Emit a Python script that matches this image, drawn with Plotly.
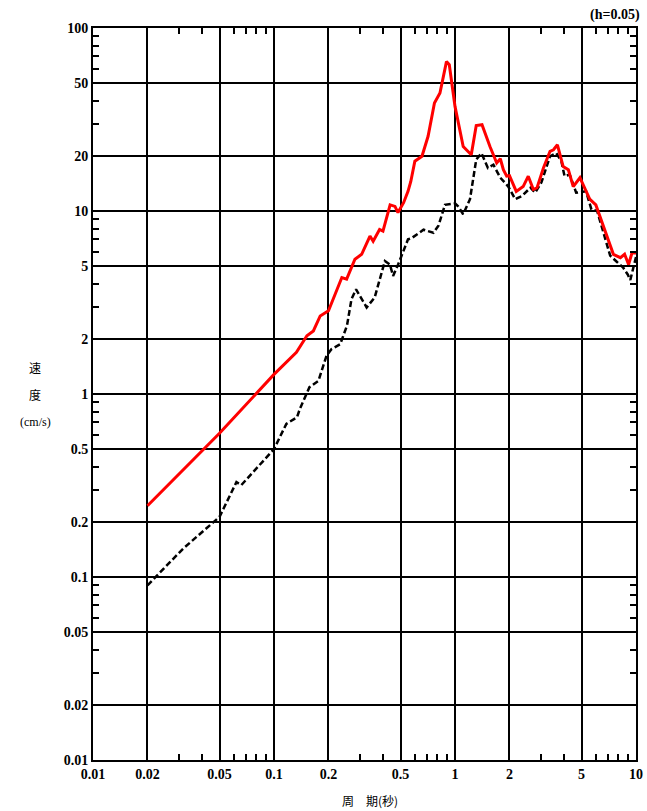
import plotly.graph_objects as go

# ---- data (period in s, velocity in cm/s) ----
red_T = [0.02, 0.05, 0.1, 0.133, 0.152, 0.165, 0.18, 0.2, 0.237, 0.252, 0.28, 0.305,
         0.339, 0.353, 0.383, 0.40, 0.438, 0.466, 0.484, 0.52, 0.55, 0.57, 0.60, 0.657,
         0.71, 0.77, 0.826, 0.897, 0.93, 1.0, 1.11, 1.23, 1.31, 1.41, 1.56, 1.70, 1.78,
         1.85, 1.93, 2.0, 2.18, 2.38, 2.54, 2.71, 2.84, 3.08, 3.35, 3.5, 3.68, 3.78,
         3.96, 4.23, 4.5, 4.9, 5.2, 5.55, 6.0, 6.3, 6.9, 7.5, 8.2, 8.65, 9.1, 9.5, 10.0]
red_V = [0.245, 0.61, 1.28, 1.69, 2.08, 2.21, 2.67, 2.85, 4.33, 4.24, 5.45, 5.8,
         7.3, 6.84, 7.93, 7.76, 10.8, 10.6, 9.8, 11.1, 12.8, 14.5, 18.7, 19.9,
         25.6, 38.9, 44.1, 65.5, 63.0, 37.3, 22.5, 20.3, 29.3, 29.6, 22.5, 18.3, 19.3,
         16.8, 15.5, 15.6, 12.8, 13.6, 15.5, 13.1, 13.4, 17.2, 21.2, 21.6, 23.0, 20.7,
         17.5, 16.8, 13.6, 15.2, 13.4, 11.6, 10.8, 9.4, 7.3, 5.8, 5.56, 5.8, 5.1, 5.9, 5.9]

black_T = [0.02, 0.0315, 0.05, 0.062, 0.066, 0.08, 0.1, 0.117, 0.134, 0.139, 0.157,
           0.176, 0.195, 0.208, 0.232, 0.253, 0.268, 0.284, 0.325, 0.36, 0.41, 0.437,
           0.455, 0.485, 0.52, 0.55, 0.575, 0.67, 0.76, 0.81, 0.88, 1.0, 1.04, 1.11,
           1.21, 1.31, 1.40, 1.52, 1.63, 1.78, 1.97, 2.15, 2.35, 2.61, 2.77, 3.0, 3.35,
           3.63, 3.87, 4.03, 4.3, 4.67, 5.3, 5.67, 6.1, 6.6, 7.2, 7.8, 8.5, 9.0, 9.3, 10.0]
black_V = [0.090, 0.143, 0.213, 0.33, 0.318, 0.39, 0.50, 0.687, 0.746, 0.83, 1.09,
           1.18, 1.62, 1.76, 1.87, 2.36, 3.3, 3.73, 2.97, 3.37, 5.33, 5.1,
           4.42, 5.1, 6.04, 7.0, 7.1, 7.9, 7.6, 8.3, 10.8, 11.0, 10.6, 9.6,
           11.6, 19.1, 20.7, 17.2, 17.9, 15.2, 13.6, 11.6, 12.1, 13.4, 12.6, 14.3, 19.9,
           20.7, 18.7, 15.5, 15.8, 12.6, 12.8, 10.2, 10.0, 7.6, 5.7, 5.3, 4.9, 4.5, 4.2, 5.6]

x_ticks = [0.01, 0.02, 0.05, 0.1, 0.2, 0.5, 1, 2, 5, 10]
x_labels = ["0.01", "0.02", "0.05", "0.1", "0.2", "0.5", "1", "2", "5", "10"]
y_ticks = [0.01, 0.02, 0.05, 0.1, 0.2, 0.5, 1, 2, 5, 10, 20, 50, 100]
y_labels = ["0.01", "0.02", "0.05", "0.1", "0.2", "0.5", "1", "2", "5", "10", "20", "50", "100"]

minor_x = [m * 10 ** e for e in range(-2, 1) for m in (3, 4, 6, 7, 8, 9)]
minor_y = [m * 10 ** e for e in range(-2, 2) for m in (3, 4, 6, 7, 8, 9)]

tick_font = dict(family="Liberation Serif, Times New Roman, serif", size=14, color="black", weight="bold")

fig = go.Figure()
fig.add_trace(go.Scatter(x=black_T, y=black_V, mode="lines",
                         line=dict(color="black", width=2.5, dash="6px,3px"), showlegend=False))
fig.add_trace(go.Scatter(x=red_T, y=red_V, mode="lines",
                         line=dict(color="#ff0000", width=3), showlegend=False))

common = dict(type="log", showgrid=True, gridcolor="black", gridwidth=1.6,
              showline=True, linecolor="black", linewidth=2, zeroline=False,
              ticks="", tickfont=tick_font, tickmode="array", automargin=False)

fig.update_layout(
    width=647, height=811,
    margin=dict(l=93, r=11, t=28, b=51, autoexpand=False),
    paper_bgcolor="white", plot_bgcolor="white",
    xaxis=dict(range=[-2, 1], tickvals=x_ticks, ticktext=x_labels, mirror=True,
               minor=dict(tickmode="array", tickvals=minor_x, ticks="inside",
                          ticklen=6, tickwidth=1.6, tickcolor="black", showgrid=False),
               **common),
    yaxis=dict(range=[-2, 2], tickvals=y_ticks, ticktext=y_labels, mirror=True,
               minor=dict(tickmode="array", tickvals=minor_y, ticks="inside",
                          ticklen=6, tickwidth=1.6, tickcolor="black", showgrid=False),
               **common),
    xaxis2=dict(type="log", range=[-2, 1], overlaying="x", side="top", showgrid=False,
                showticklabels=False, tickmode="array", tickvals=minor_x, ticks="inside",
                ticklen=6, tickwidth=1.6, tickcolor="black", zeroline=False, showline=False,
                automargin=False),
    yaxis2=dict(type="log", range=[-2, 2], overlaying="y", side="right", showgrid=False,
                showticklabels=False, tickmode="array", tickvals=minor_y, ticks="inside",
                ticklen=6, tickwidth=1.6, tickcolor="black", zeroline=False, showline=False,
                automargin=False),
)
# invisible trace to activate the mirrored minor-tick axes
fig.add_trace(go.Scatter(x=[0.01], y=[0.01], xaxis="x2", yaxis="y2", mode="markers",
                         marker=dict(opacity=0), showlegend=False, hoverinfo="skip"))

cjk = "Noto Sans CJK JP"
fig.add_annotation(text="(h=0.05)", xref="paper", yref="paper", x=1.0, y=1.0,
                   xanchor="right", yanchor="bottom", yshift=3, xshift=6, showarrow=False,
                   font=dict(family="Liberation Serif, serif", size=14, color="black", weight="bold"))
fig.add_annotation(text="周　期(秒)", xref="paper", yref="paper", x=0.51, y=0, yshift=-40,
                   xanchor="center", yanchor="middle", showarrow=False,
                   font=dict(family=cjk, size=12, color="black"))
for txt, yp in [("速", 367), ("度", 394), ("(cm/s)", 422)]:
    fig.add_annotation(text=txt, xref="paper", yref="paper", x=0, xshift=-58,
                       y=(760 - yp) / 732, xanchor="center", yanchor="middle", showarrow=False,
                       font=dict(family=cjk if txt != "(cm/s)" else "Liberation Serif, serif",
                                 size=12, color="black"))

fig.write_html("out.html")
